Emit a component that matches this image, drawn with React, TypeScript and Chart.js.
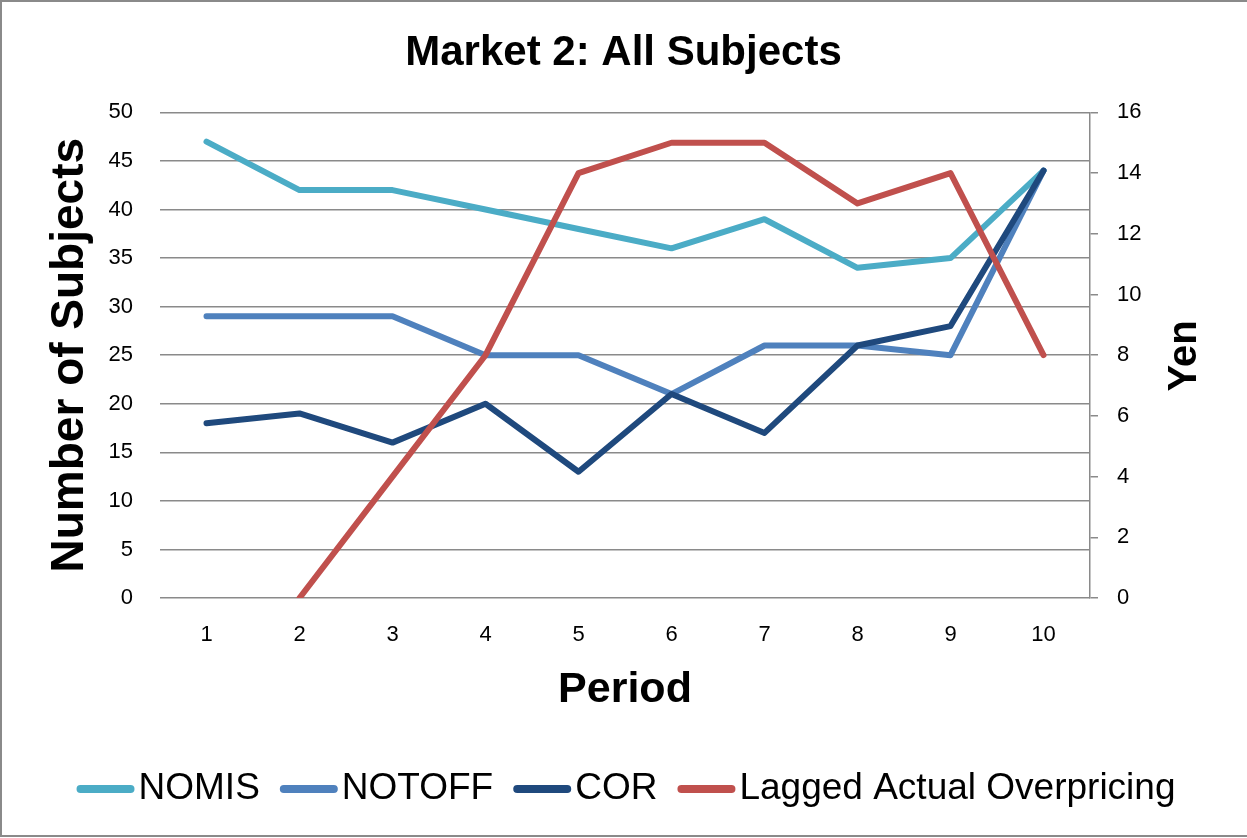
import React, { useEffect, useRef } from 'react';
import { Chart, registerables } from 'chart.js';

Chart.register(...registerables);

const periods = ['1', '2', '3', '4', '5', '6', '7', '8', '9', '10'];
const nomis = [47, 42, 42, 40, 38, 36, 39, 34, 35, 44];
const notoff = [29, 29, 29, 25, 25, 21, 26, 26, 25, 44];
const cor = [18, 19, 16, 20, 13, 21, 17, 26, 28, 44];
const laggedOverpricing = [null, 0, 4, 8, 14, 15, 15, 13, 14, 8];

const leftTicksMax = 50;
const leftTicksStep = 5;
const rightTicksMax = 16;
const rightTicksStep = 2;

const FONT = "'Liberation Sans', Arial, sans-serif";
const GRID = '#8a8a8a';

export default function App() {
  const ref = useRef<HTMLCanvasElement>(null);

  useEffect(() => {
    const canvas = ref.current;
    if (!canvas) return;

    const extras = {
      id: 'extras',
      beforeDraw(chart: any) {
        const { ctx, width, height } = chart;
        ctx.save();
        ctx.fillStyle = '#ffffff';
        ctx.fillRect(0, 0, width, height);
        ctx.restore();
      },
      afterDraw(chart: any) {
        const { ctx } = chart;
        ctx.save();
        // outer frame
        ctx.strokeStyle = GRID;
        ctx.lineWidth = 2;
        ctx.strokeRect(1, 1, 1260, 835);

        // right axis title
        ctx.save();
        ctx.translate(1185, 356);
        ctx.rotate(-Math.PI / 2);
        ctx.font = `bold 40px ${FONT}`;
        ctx.fillStyle = '#000';
        ctx.textAlign = 'center';
        ctx.textBaseline = 'middle';
        ctx.fillText('Yen', 0, 0);
        ctx.restore();

        // legend
        const swatch = 58;
        const gapText = 4;
        const gapItem = 20;
        ctx.font = `37px ${FONT}`;
        const items = chart.data.datasets.map((d: any) => ({
          label: d.label,
          color: d.borderColor,
          w: ctx.measureText(d.label).width,
        }));
        let total = 0;
        items.forEach((it: any, i: number) => {
          total += swatch + gapText + it.w + (i < items.length - 1 ? gapItem : 0);
        });
        let x = 626 - total / 2;
        const y = 789;
        items.forEach((it: any) => {
          ctx.strokeStyle = it.color;
          ctx.lineWidth = 8;
          ctx.lineCap = 'round';
          ctx.beginPath();
          ctx.moveTo(x + 4, y);
          ctx.lineTo(x + swatch - 4, y);
          ctx.stroke();
          ctx.fillStyle = '#000';
          ctx.textAlign = 'left';
          ctx.textBaseline = 'middle';
          ctx.fillText(it.label, x + swatch + gapText, y);
          x += swatch + gapText + it.w + gapItem;
        });
        ctx.restore();
      },
    };

    const common = {
      fill: false,
      tension: 0,
      pointRadius: 0,
      pointHoverRadius: 0,
      borderWidth: 6,
      borderCapStyle: 'round' as const,
      borderJoinStyle: 'round' as const,
    };

    const chart = new Chart(canvas, {
      type: 'line',
      data: {
        labels: periods,
        datasets: [
          { ...common, label: 'NOMIS', data: nomis, borderColor: '#4BACC6', backgroundColor: '#4BACC6', yAxisID: 'y', order: 3 },
          { ...common, label: 'NOTOFF', data: notoff, borderColor: '#4F81BD', backgroundColor: '#4F81BD', yAxisID: 'y', order: 2 },
          { ...common, label: 'COR', data: cor, borderColor: '#1F497D', backgroundColor: '#1F497D', yAxisID: 'y', order: 1 },
          { ...common, label: 'Lagged Actual Overpricing', data: laggedOverpricing, borderColor: '#C0504D', backgroundColor: '#C0504D', yAxisID: 'y1', order: 0 },
        ],
      },
      options: {
        responsive: false,
        animation: false,
        devicePixelRatio: 1,
        events: [],
        layout: { padding: { top: 0, left: 0, right: 0, bottom: 110 } },
        plugins: {
          legend: { display: false },
          tooltip: { enabled: false },
          title: {
            display: true,
            text: 'Market 2: All Subjects',
            color: '#000',
            font: { family: FONT, size: 42, weight: 'bold' },
            padding: { top: 28, bottom: 34 },
          },
        },
        scales: {
          x: {
            type: 'category',
            offset: true,
            grid: { display: false },
            border: { display: false },
            ticks: { color: '#000', font: { family: FONT, size: 22 }, padding: 16, maxRotation: 0 },
            title: {
              display: true,
              text: 'Period',
              color: '#000',
              font: { family: FONT, size: 43, weight: 'bold' },
              padding: { top: 0, bottom: 12 },
            },
            afterFit(scale: any) {
              scale.height = 130;
            },
          },
          y: {
            position: 'left',
            min: 0,
            max: leftTicksMax,
            ticks: { stepSize: leftTicksStep, color: '#000', font: { family: FONT, size: 22 }, padding: 27 },
            grid: { color: GRID, lineWidth: 1.5, drawTicks: false },
            border: { display: false },
            title: {
              display: true,
              text: 'Number of Subjects',
              color: '#000',
              font: { family: FONT, size: 46, weight: 'bold' },
              padding: { top: 43, bottom: 0 },
            },
            afterFit(scale: any) {
              scale.width = 160;
            },
          },
          y1: {
            position: 'right',
            min: 0,
            max: rightTicksMax,
            ticks: { stepSize: rightTicksStep, color: '#000', font: { family: FONT, size: 22 }, padding: 19 },
            grid: { drawOnChartArea: false, drawTicks: true, tickLength: 8, color: GRID, lineWidth: 1.5 },
            border: { display: true, color: GRID, width: 1.5 },
            afterFit(scale: any) {
              scale.width = 157;
            },
          },
        },
      },
      plugins: [extras],
    } as any);

    return () => chart.destroy();
  }, []);

  return (
    <div style={{ position: 'absolute', left: 0, top: 0, width: 1247, height: 838 }}>
      <canvas ref={ref} width={1247} height={838} style={{ display: 'block', width: 1247, height: 838 }} />
    </div>
  );
}
